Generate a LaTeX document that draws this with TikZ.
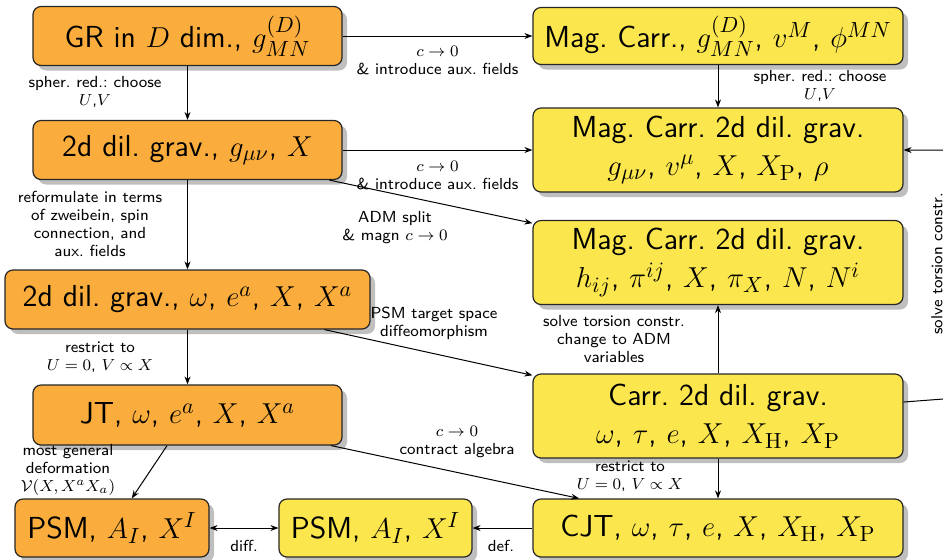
\documentclass[tikz,border=0pt]{standalone}
\usetikzlibrary{shadows,arrows.meta}
\definecolor{orangeF}{RGB}{250,173,60}
\definecolor{yellowF}{RGB}{252,230,78}
\begin{document}
\frenchspacing
\begin{tikzpicture}[x=0.5pt,y=-0.5pt,
  box/.style={draw=black!85, line width=0.6pt, rounded corners=4pt,
    font=\fontsize{15.2}{19}\selectfont\sffamily\frenchspacing, align=center, inner sep=2pt,
    drop shadow={shadow xshift=2.5pt, shadow yshift=-2.5pt, fill=black!25, opacity=1}},
  obox/.style={box, fill=orangeF},
  ybox/.style={box, fill=yellowF},
  lab/.style={font=\fontsize{8}{9}\selectfont\sffamily\frenchspacing, align=center, inner sep=1pt},
  arr/.style={-{Stealth[length=4pt,width=3pt]}, line width=0.5pt},
  darr/.style={{Stealth[length=4pt,width=3pt]}-{Stealth[length=4pt,width=3pt]}, line width=0.5pt}]
\useasboundingbox (0,0) rectangle (943,559);
\clip (0,0) rectangle (943,559);

% nodes
\node[obox, minimum width=154.5pt, minimum height=29.5pt] (gr) at (187.5,36) {GR in $D$ dim., $g_{MN}^{(D)}$};
\node[ybox, minimum width=185pt, minimum height=28.5pt] (mc) at (718,36) {Mag. Carr., $g_{MN}^{(D)}$, $v^M$, $\phi^{MN}$};
\node[obox, minimum width=154.5pt, minimum height=29.5pt] (g) at (187.5,150) {2d dil. grav., $g_{\mu\nu}$, $X$};
\node[ybox, minimum width=185pt, minimum height=42pt] (mc2) at (718,150) {Mag. Carr. 2d dil. grav.\\ $g_{\mu\nu}$, $v^{\mu}$, $X$, $X_{\mathrm{P}}$, $\rho$};
\node[ybox, minimum width=185pt, minimum height=42pt] (mch) at (718,262.5) {Mag. Carr. 2d dil. grav.\\ $h_{ij}$, $\pi^{ij}$, $X$, $\pi_X$, $N$, $N^i$};
\node[obox, minimum width=182.5pt, minimum height=29.5pt] (w) at (187.5,299.5) {2d dil. grav., $\omega$, $e^a$, $X$, $X^a$};
\node[obox, minimum width=154.5pt, minimum height=30pt] (jt) at (187.5,415) {JT, $\omega$, $e^a$, $X$, $X^a$};
\node[ybox, minimum width=185pt, minimum height=42pt] (carr) at (718,416) {Carr. 2d dil. grav.\\ $\omega$, $\tau$, $e$, $X$, $X_{\mathrm{H}}$, $X_{\mathrm{P}}$};
\node[obox, minimum width=97pt, minimum height=29pt] (psmo) at (112,528) {PSM, $A_I$, $X^I$};
\node[ybox, minimum width=96.5pt, minimum height=29pt] (psmy) at (375.5,528) {PSM, $A_I$, $X^I$};
\node[ybox, minimum width=185pt, minimum height=29pt] (cjt) at (718,528) {CJT, $\omega$, $\tau$, $e$, $X$, $X_{\mathrm{H}}$, $X_{\mathrm{P}}$};

% connectors
\draw[arr] (gr) -- (mc);
\draw[arr] (gr) -- (g);
\draw[arr] (mc) -- (mc2);
\draw[arr] (g) -- (mc2);
\draw[arr] (g) -- (mch);
\draw[arr] (g) -- (w);
\draw[arr] (w) -- (jt);
\draw[arr] (w) -- (carr);
\draw[arr] (carr) -- (mch);
\draw[arr] (carr) -- (cjt);
\draw[arr] (jt) -- (cjt);
\draw[arr] (jt) -- (psmo);
\draw[arr] (cjt) -- (psmy);
\draw[darr] (psmo) -- (psmy);
\coordinate (rt) at (1000,394.7);
\draw[arr] (carr) -- (rt) |- (mc2);

% labels
\node[lab] (l1) at (437.5,61) {$c\to0$\\ \& introduce aux. fields};
\node[lab] (l2) at (95,92) {spher. red.: choose\\ $U$,$V$};
\node[lab] (l3) at (820,86) {spher. red.: choose\\ $U$,$V$};
\node[lab] (l4) at (437.5,176) {$c\to0$\\ \& introduce aux. fields};
\node[lab] (l5) at (395,228) {ADM split\\ \& magn $c\to0$};
\node[lab] (l6) at (90,224) {reformulate in terms\\ of zweibein, spin\\ connection, and\\ aux. fields};
\node[lab] (l7) at (434,323) {PSM target space\\ diffeomorphism};
\node[lab] (l8) at (614,339) {solve torsion constr.\\ change to ADM\\ variables};
\node[lab] (l9) at (100,357) {restrict to\\ $U=0$, $V\propto X$};
\node[lab] (l10) at (457,442) {$c\to0$\\ contract algebra};
\node[lab] (l11) at (630,476) {restrict to\\ $U=0$, $V\propto X$};
\node[lab] (l12) at (68,470) {most general\\ deformation\\ $\mathcal{V}(X,X^aX_a)$};
\node[lab] (l13) at (244,546) {diff.};
\node[lab] (l14) at (501,546) {def.};
\node[lab, rotate=90] (l15) at (937,264) {solve torsion constr.};
\end{tikzpicture}
\end{document}
